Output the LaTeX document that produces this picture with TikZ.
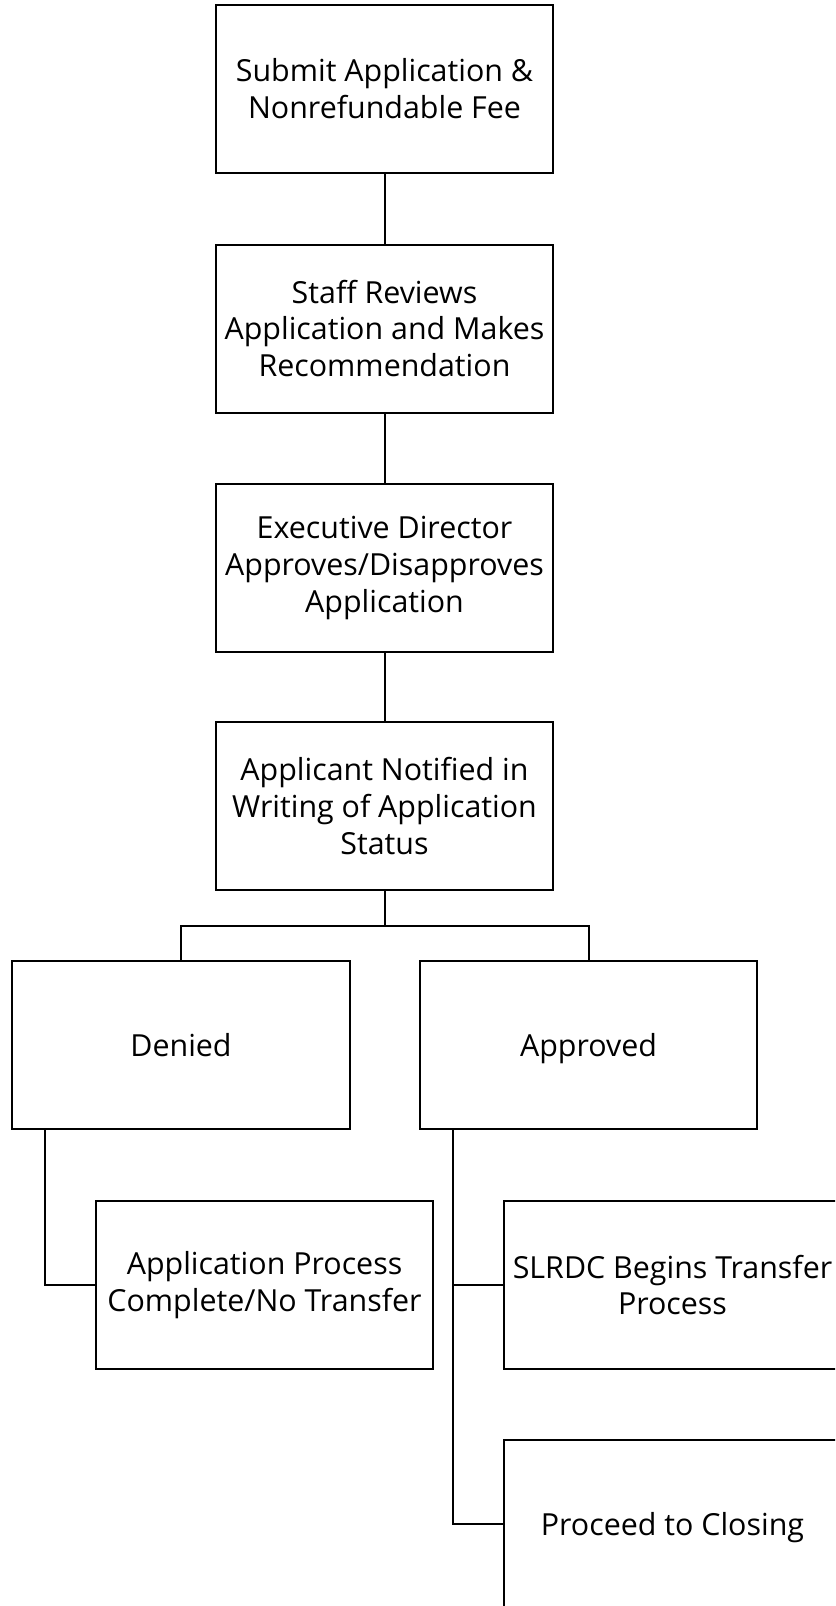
\documentclass[tikz,border=0pt]{standalone}
\usepackage{fontspec}
\setmainfont{Open Sans}
\begin{document}
\begin{tikzpicture}[x=1bp,y=-1bp,
  box/.style={draw, line width=2bp, minimum width=337bp, minimum height=168bp, inner sep=0pt, align=center, font=\fontsize{30.5}{37}\selectfont},
  onebox/.style={box, text depth=0pt},
  conn/.style={line width=2bp}]
\useasboundingbox (0,0) rectangle (835,1606);
\clip (0,0) rectangle (835,1606);
\node[box] (b1) at (384.5,89) {Submit Application \&\\Nonrefundable Fee};
\node[box] (b2) at (384.5,328.5) {Staff Reviews\\Application and Makes\\Recommendation};
\node[box] (b3) at (384.5,568) {Executive Director\\Approves/Disapproves\\Application};
\node[box] (b4) at (384.5,806) {Applicant Notified in\\Writing of Application\\Status};
\node[onebox] (denied) at (181,1045) {Denied};
\node[onebox] (approved) at (588.5,1045) {Approved};
\node[box] (complete) at (264.5,1285) {Application Process\\Complete/No Transfer};
\node[box] (slrdc) at (672.5,1285) {SLRDC Begins Transfer\\Process};
\node[onebox] (closing) at (672.5,1524) {Proceed to Closing};
\coordinate (j1) at (384.5,926);
\coordinate (dj) at ([xshift=34bp]denied.south west);
\coordinate (aj) at ([xshift=34bp]approved.south west);
\draw[conn] (b1.south) -- (b2.north);
\draw[conn] (b2.south) -- (b3.north);
\draw[conn] (b3.south) -- (b4.north);
\draw[conn] (b4.south) -- (j1);
\draw[conn] (denied.north) |- (j1) -| (approved.north);
\draw[conn] (dj) |- (complete.west);
\draw[conn] (aj) |- (closing.west);
\draw[conn] (slrdc.west) -- (slrdc.west -| aj);
\end{tikzpicture}
\end{document}
